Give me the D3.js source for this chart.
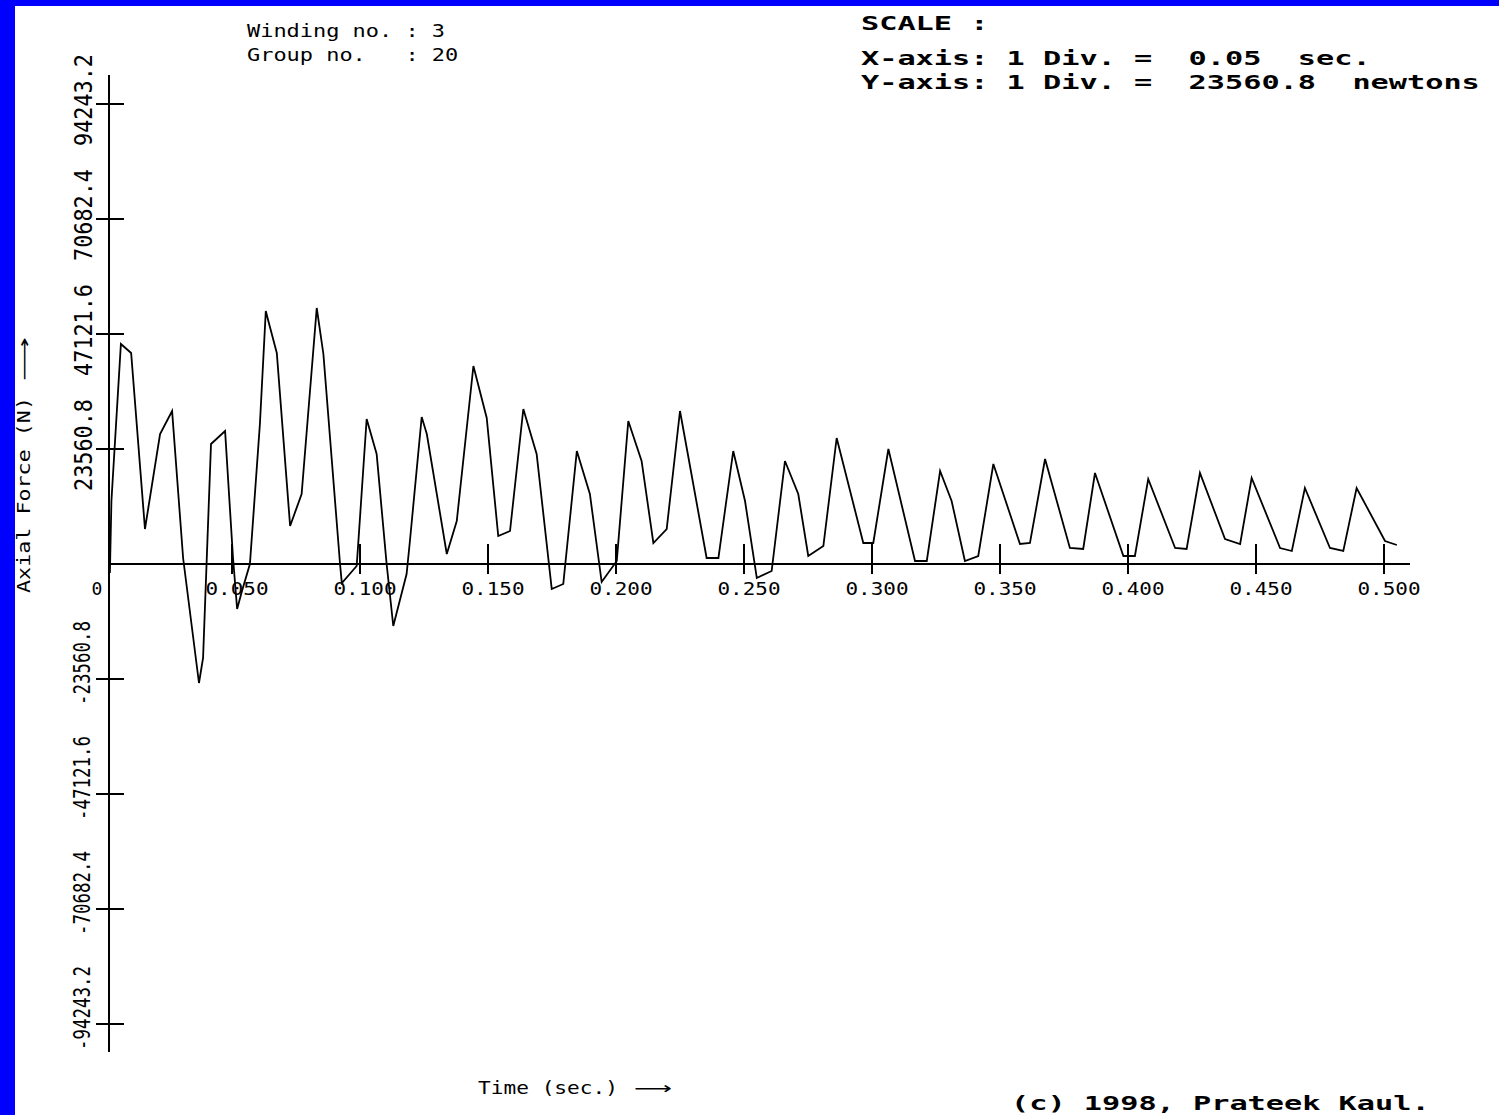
<!DOCTYPE html>
<html><head><meta charset="utf-8">
<script src="https://cdn.jsdelivr.net/npm/d3@7"></script>
<style>html,body{margin:0;padding:0;background:#fff;overflow:hidden}text{white-space:pre}</style>
</head><body><svg id="c" width="1499" height="1115"></svg>
<script>
// ---- data ----
const timeSec = [0.0023,0.0029,0.0066,0.0106,0.0160,0.0219,0.0266,0.0309,0.0371,0.0387,0.0418,0.0473,0.0504,0.0520,0.0539,0.0570,0.0609,0.0632,0.0642,0.0675,0.0727,0.0772,0.0831,0.0857,0.0922,0.0929,0.0987,0.0993,0.1026,0.1065,0.1104,0.1130,0.1182,0.1195,0.1241,0.1261,0.1339,0.1378,0.1443,0.1495,0.1540,0.1586,0.1638,0.1690,0.1749,0.1794,0.1847,0.1898,0.1944,0.2003,0.2048,0.2100,0.2146,0.2198,0.2250,0.2289,0.2354,0.2400,0.2458,0.2504,0.2550,0.2608,0.2660,0.2712,0.2751,0.2810,0.2862,0.2966,0.3005,0.3064,0.3168,0.3214,0.3266,0.3311,0.3363,0.3415,0.3474,0.3578,0.3617,0.3676,0.3773,0.3825,0.3871,0.3982,0.4027,0.4079,0.4184,0.4229,0.4281,0.4379,0.4438,0.4483,0.4594,0.4640,0.4691,0.4789,0.4841,0.4893,0.5004,0.5050];
const axialForceN = [-1844,12907,45074,43230,7171,26634,31347,1229,-24381,-19259,24586,27249,1229,-9220,-5532,0,28683,51835,49786,43230,7785,14342,52449,43025,0,-3893,-410,4098,29708,22537,0,-12703,-2049,4712,30117,26634,2049,8810,40566,29912,5737,6761,31756,22537,-5122,-4098,23151,14342,-3688,615,29298,21103,4302,7171,31347,20078,1229,1229,23151,12907,-2868,-1434,21103,14342,1639,3688,25815,4302,4302,23561,615,615,19054,12907,615,1639,20488,4098,4302,21512,3278,3073,18644,1639,1639,17415,3278,3073,18644,5122,4098,17620,3278,2663,15571,3278,2663,15571,4712,3893];
const xTickValues = [0.05,0.10,0.15,0.20,0.25,0.30,0.35,0.40,0.45,0.50];
const xTickLabels = ["0.050","0.100","0.150","0.200","0.250","0.300","0.350","0.400","0.450","0.500"];
const yTickValues = [94243.2,70682.4,47121.6,23560.8,-23560.8,-47121.6,-70682.4,-94243.2];
const yTickLabels = ["94243.2","70682.4","47121.6","23560.8","-23560.8","-47121.6","-70682.4","-94243.2"];
const headerLines = ["Winding no. : 3","Group no.   : 20"];
const scaleLines = ["SCALE :","X-axis: 1 Div. =  0.05  sec.","Y-axis: 1 Div. =  23560.8  newtons"];
const xTitle = "Time (sec.)";
const yTitle = "Axial Force (N)";
const arrowGlyph = "\u27F6";
const originLabel = "0";
const credit = "(c) 1998, Prateek Kaul.";

// ---- drawing ----
const svg = d3.select("#c");
const W = 1499, H = 1115;
svg.append("rect").attr("width", W).attr("height", H).attr("fill", "#fff");
svg.append("rect").attr("x", 0).attr("y", 0).attr("width", W).attr("height", 6).attr("fill", "#0000ff");
svg.append("rect").attr("x", 0).attr("y", 0).attr("width", 15).attr("height", H).attr("fill", "#0000ff");

const x = d3.scaleLinear().domain([0, 0.5]).range([104, 1384]);
const y = d3.scaleLinear().domain([-94243.2, 94243.2]).range([1024, 104]);
const axisX = x(0) + 5;
const y0 = y(0);

const thin = "'DejaVu Sans Mono', monospace";
const ink = "#000";

// axes lines
const axes = svg.append("g").attr("stroke", ink).attr("stroke-width", 2).attr("shape-rendering", "crispEdges");
axes.append("line").attr("x1", axisX).attr("x2", axisX).attr("y1", 75).attr("y2", 1052);
axes.append("line").attr("x1", axisX).attr("x2", x(0.5) + 26).attr("y1", y0).attr("y2", y0);

// x ticks
axes.selectAll(".xt").data(xTickValues).join("line")
  .attr("x1", d => Math.round(x(d))).attr("x2", d => Math.round(x(d)))
  .attr("y1", y0 - 20).attr("y2", y0 + 10);
// y ticks
axes.selectAll(".yt").data(yTickValues).join("line")
  .attr("x1", axisX - 13).attr("x2", axisX + 15)
  .attr("y1", d => Math.round(y(d))).attr("y2", d => Math.round(y(d)));

// x tick labels
svg.append("g").selectAll("text").data(xTickValues).join("text")
  .attr("x", d => x(d) + 5).attr("y", 595)
  .attr("text-anchor", "middle")
  .attr("font-family", thin).attr("font-size", 18).attr("fill", ink)
  .attr("textLength", (d, i) => xTickLabels[i].length * 12.6)
  .attr("lengthAdjust", "spacingAndGlyphs")
  .text((d, i) => xTickLabels[i]);

// origin label
svg.append("text").attr("x", 97).attr("y", 595).attr("text-anchor", "middle")
  .attr("font-family", thin).attr("font-size", 18).attr("fill", ink).text(originLabel);

// y tick labels (rotated)
svg.append("g").selectAll("text").data(yTickValues).join("text")
  .attr("transform", d => d > 0
      ? `translate(92,${y(d) - 4}) rotate(-90)`
      : `translate(90,${y(d) - 16}) rotate(-90)`)
  .attr("text-anchor", "middle")
  .attr("font-family", thin).attr("font-size", d => d > 0 ? 25 : 23).attr("fill", ink)
  .attr("textLength", (d, i) => d > 0 ? 92 : 84)
  .attr("lengthAdjust", "spacingAndGlyphs")
  .text((d, i) => yTickLabels[i]);

// curve
const pts = timeSec.map((t, i) => ({t, v: axialForceN[i]}));
svg.append("path").datum(pts)
  .attr("fill", "none").attr("stroke", ink).attr("stroke-width", 1.8)
  .attr("d", d3.line().x(d => x(d.t)).y(d => y(d.v)));

// header
svg.append("g").selectAll("text").data(headerLines).join("text")
  .attr("x", 247).attr("y", (d, i) => 37 + i * 24)
  .attr("font-family", thin).attr("font-size", 17).attr("fill", ink)
  .attr("textLength", d => d.length * 13.2).attr("lengthAdjust", "spacingAndGlyphs")
  .text(d => d);

// scale block
svg.append("g").selectAll("text").data(scaleLines).join("text")
  .attr("x", 861).attr("y", (d, i) => i === 0 ? 30 : 65 + (i - 1) * 24)
  .attr("font-family", thin).attr("font-weight", "bold").attr("font-size", 20).attr("fill", ink)
  .attr("textLength", d => d.length * 18.2).attr("lengthAdjust", "spacingAndGlyphs")
  .text(d => d);

// x title
svg.append("text").attr("x", 478).attr("y", 1094)
  .attr("font-family", thin).attr("font-size", 17).attr("fill", ink)
  .attr("textLength", 140).attr("lengthAdjust", "spacingAndGlyphs").text(xTitle);
svg.append("text").attr("x", 634).attr("y", 1094)
  .attr("font-family", "'DejaVu Sans', sans-serif").attr("font-size", 17).attr("fill", ink)
  .attr("textLength", 38).attr("lengthAdjust", "spacingAndGlyphs").text(arrowGlyph);

// y title (rotated)
svg.append("text").attr("transform", "translate(30,593) rotate(-90)")
  .attr("font-family", thin).attr("font-size", 17).attr("fill", ink)
  .attr("textLength", 196).attr("lengthAdjust", "spacingAndGlyphs").text(yTitle);
svg.append("text").attr("transform", "translate(30,381) rotate(-90)")
  .attr("font-family", "'DejaVu Sans', sans-serif").attr("font-size", 17).attr("fill", ink)
  .attr("textLength", 44).attr("lengthAdjust", "spacingAndGlyphs").text(arrowGlyph);

// credit
svg.append("text").attr("x", 1011).attr("y", 1110)
  .attr("font-family", thin).attr("font-weight", "bold").attr("font-size", 20).attr("fill", ink)
  .attr("textLength", credit.length * 18.2).attr("lengthAdjust", "spacingAndGlyphs")
  .text(credit);
</script>
</body></html>
